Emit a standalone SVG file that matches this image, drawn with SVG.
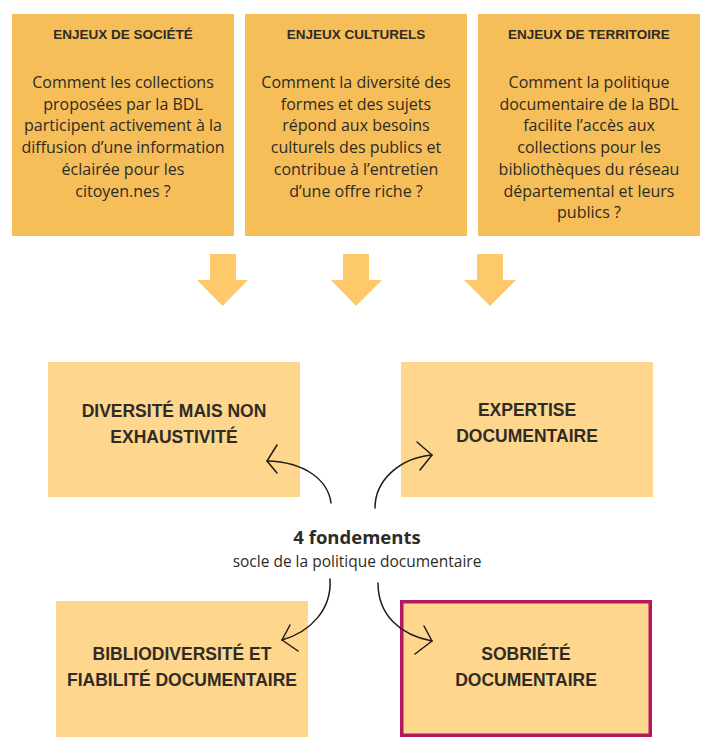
<svg xmlns="http://www.w3.org/2000/svg" width="720" height="753" viewBox="0 0 720 753">
<style>
.top{fill:#F5BE58}
.bot{fill:#FED68D}
.hd{font-family:"Liberation Sans",Arial,sans-serif;font-weight:bold;font-size:13.5px;fill:#2F2B25;text-anchor:middle}
.bd{font-family:"Open Sans","Liberation Sans",sans-serif;font-size:16px;fill:#2F2B25;text-anchor:middle}
.tt{font-family:"Liberation Sans",Arial,sans-serif;font-weight:bold;font-size:17.5px;fill:#2F2B25;text-anchor:middle}
.arr{fill:#FEC96A}
.cn{fill:none;stroke:#1E1B18;stroke-width:1.5;stroke-linecap:round;stroke-linejoin:round}
</style>
<rect width="720" height="753" fill="#FFFFFF"/>
<g id="enjeux-societe">
<rect class="top" x="12" y="14" width="222" height="222"/>
<text class="hd" x="123" y="39">ENJEUX DE SOCIÉTÉ</text>
<text class="bd" x="123" y="88">Comment les collections</text>
<text class="bd" x="123" y="109.7">proposées par la BDL</text>
<text class="bd" x="123" y="131.4">participent activement à la</text>
<text class="bd" x="123" y="153.1">diffusion d’une information</text>
<text class="bd" x="123" y="174.8">éclairée pour les</text>
<text class="bd" x="123" y="196.5">citoyen.nes ?</text>
</g>
<g id="enjeux-culturels">
<rect class="top" x="245" y="14" width="222" height="222"/>
<text class="hd" x="356" y="39">ENJEUX CULTURELS</text>
<text class="bd" x="356" y="88">Comment la diversité des</text>
<text class="bd" x="356" y="109.7">formes et des sujets</text>
<text class="bd" x="356" y="131.4">répond aux besoins</text>
<text class="bd" x="356" y="153.1">culturels des publics et</text>
<text class="bd" x="356" y="174.8">contribue à l’entretien</text>
<text class="bd" x="356" y="196.5">d’une offre riche ?</text>
</g>
<g id="enjeux-territoire">
<rect class="top" x="478" y="14" width="222" height="222"/>
<text class="hd" x="589" y="39">ENJEUX DE TERRITOIRE</text>
<text class="bd" x="589" y="88">Comment la politique</text>
<text class="bd" x="589" y="109.7">documentaire de la BDL</text>
<text class="bd" x="589" y="131.4">facilite l’accès aux</text>
<text class="bd" x="589" y="153.1">collections pour les</text>
<text class="bd" x="589" y="174.8">bibliothèques du réseau</text>
<text class="bd" x="589" y="196.5">départemental et leurs</text>
<text class="bd" x="589" y="218.2">publics ?</text>
</g>
<g id="fleches">
<polygon class="arr" points="210,254 236,254 236,280 248,280 222.5,306 197,280 210,280"/>
<polygon class="arr" points="343,254 369,254 369,280 382,280 356,306 331,280 343,280"/>
<polygon class="arr" points="477,254 503,254 503,280 516,280 490,306 464,280 477,280"/>
</g>
<g id="diversite">
<rect class="bot" x="48" y="362" width="252" height="135"/>
<text class="tt" x="174" y="417">DIVERSITÉ MAIS NON</text>
<text class="tt" x="174" y="443">EXHAUSTIVITÉ</text>
</g>
<g id="expertise">
<rect class="bot" x="401" y="362" width="252" height="135"/>
<text class="tt" x="527" y="416">EXPERTISE</text>
<text class="tt" x="527" y="442">DOCUMENTAIRE</text>
</g>
<g id="bibliodiversite">
<rect class="bot" x="56" y="601" width="252" height="136"/>
<text class="tt" x="182" y="660">BIBLIODIVERSITÉ ET</text>
<text class="tt" x="182" y="686">FIABILITÉ DOCUMENTAIRE</text>
</g>
<g id="sobriete">
<rect class="bot" x="401.75" y="601.75" width="248.5" height="133.5" stroke="#B3195F" stroke-width="3.5"/>
<text class="tt" x="526" y="660">SOBRIÉTÉ</text>
<text class="tt" x="526" y="686">DOCUMENTAIRE</text>
</g>
<g id="centre">
<text x="357" y="544" font-family="Open Sans, Liberation Sans, sans-serif" font-weight="bold" font-size="18.5" fill="#2F2B25" text-anchor="middle">4 fondements</text>
<text x="357" y="567" font-family="Open Sans, Liberation Sans, sans-serif" font-size="15.5" fill="#2F2B25" text-anchor="middle">socle de la politique documentaire</text>
</g>
<g id="connecteurs">
<path class="cn" d="M331,503 C328,480 305,462 267,461"/>
<path class="cn" d="M277,445 L267,461 L277,473"/>
<path class="cn" d="M375,508 C375,480 400,458 432,455"/>
<path class="cn" d="M417,442 L432,455 L420,470"/>
<path class="cn" d="M330,579 C332,610 310,632 282,640"/>
<path class="cn" d="M290,625 L282,640 L298,651"/>
<path class="cn" d="M378,583 C378,615 400,635 432,641"/>
<path class="cn" d="M424,626 L432,641 L415,654"/>
</g>
</svg>
